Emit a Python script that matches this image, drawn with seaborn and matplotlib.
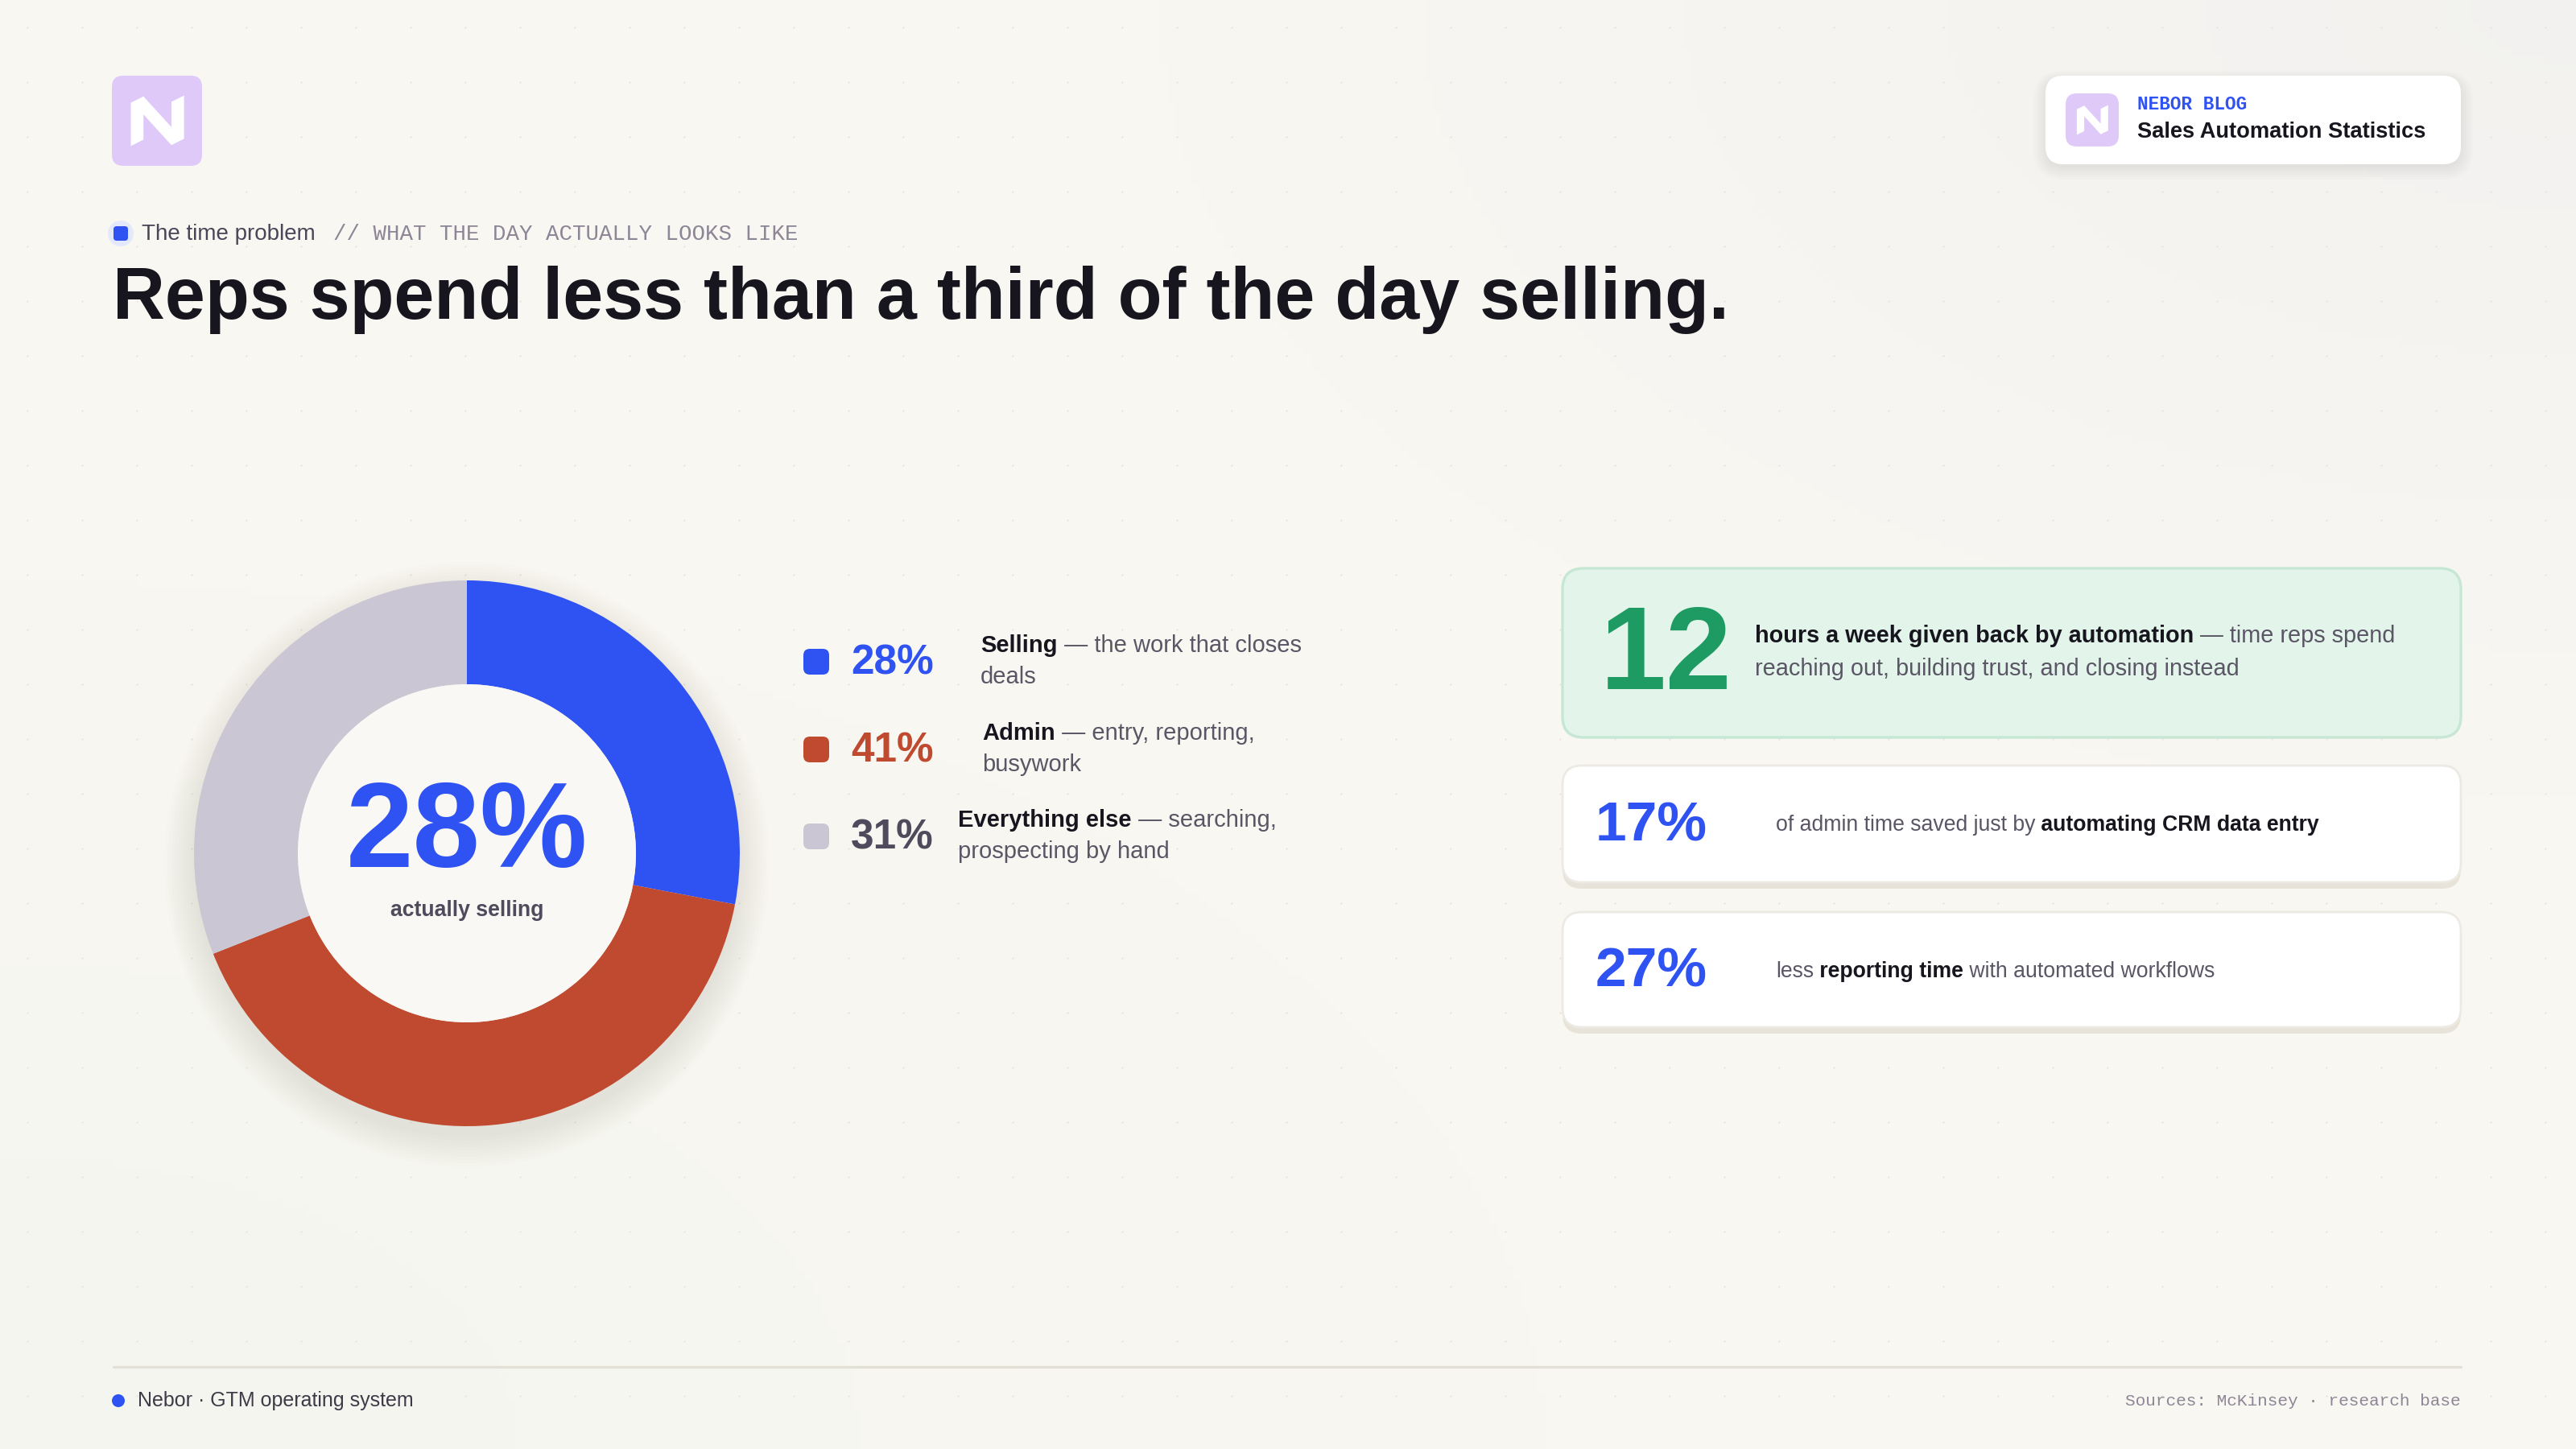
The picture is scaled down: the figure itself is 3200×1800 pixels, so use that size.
import numpy as np
import matplotlib
matplotlib.use("Agg")
import matplotlib.pyplot as plt
from matplotlib import font_manager as fm
from matplotlib.patches import FancyBboxPatch, Polygon, Circle
import seaborn as sns

# ---------------- data ----------------
segments = ["Selling", "Admin", "Everything else"]
shares = [28, 41, 31]
seg_notes_1 = [" \u2014 the work that closes", " \u2014 entry, reporting,", " \u2014 searching,"]
seg_notes_2 = ["deals", "busywork", "prospecting by hand"]
center_label = "actually selling"

stat_numbers = [12, 17, 27]
stat_units = ["", "%", "%"]

title = "Reps spend less than a third of the day selling."
eyebrow = "The time problem"
eyebrow_tag = "// WHAT THE DAY ACTUALLY LOOKS LIKE"
badge_kicker = "NEBOR BLOG"
badge_title = "Sales Automation Statistics"
footer_left = "Nebor \u00b7 GTM operating system"
footer_right = "Sources: McKinsey \u00b7 research base"

# ---------------- style ----------------
BG = "#F9F7F2"
BLUE = "#2F52F2"
RED = "#C04A2F"
LILAC = "#CBC6D3"
DARK = "#17161F"
GREY = "#5B5666"
MUTED = "#8C8696"
GREEN = "#1E9A63"
LAV = "#DEC9F9"
seg_colors = [BLUE, RED, LILAC]
pct_colors = [BLUE, RED, "#4F4A5C"]

sns.set_theme(style="white")
sns.set_palette(seg_colors)
avail = {f.name for f in fm.fontManager.ttflist}
HEAD = "Liberation Sans Narrow" if "Liberation Sans Narrow" in avail else "Liberation Sans"
BODY = "Liberation Sans"
MONO = "Liberation Mono" if "Liberation Mono" in avail else "DejaVu Sans Mono"
plt.rcParams["font.family"] = [BODY, "DejaVu Sans"]

fig = plt.figure(figsize=(16, 9), dpi=200)
fig.patch.set_facecolor(BG)
ax = fig.add_axes([0, 0, 1, 1])
ax.set_xlim(0, 3200)
ax.set_ylim(1800, 0)
ax.axis("off")

# background wash: grey top-right, faint green bottom-left
gy, gx = np.mgrid[0:1:180j, 0:1:320j]
base = np.array([249, 247, 242]) / 255
tr = np.clip(1 - np.hypot(1 - gx, gy) / 0.55, 0, 1)[..., None]
bl = np.clip(1 - np.hypot(gx, 1 - gy) / 0.6, 0, 1)[..., None]
img = base * (1 - tr * 0.6 - bl * 0.5) + np.array([238, 238, 238]) / 255 * tr * 0.6 \
    + np.array([240, 244, 236]) / 255 * bl * 0.5
ax.imshow(img, extent=(0, 3200, 1800, 0), aspect="auto", zorder=0)

# dot grid
dx, dy = np.meshgrid(np.arange(34, 3200, 68), np.arange(34, 1800, 68))
ax.scatter(dx.ravel(), dy.ravel(), s=0.6, color="#E6E2D9", zorder=1, linewidths=0)


def rbox(x0, y0, x1, y1, r, fc, ec="none", lw=0, z=2, alpha=1.0):
    p = FancyBboxPatch((x0, y0), x1 - x0, y1 - y0,
                       boxstyle=f"round,pad=0,rounding_size={r}",
                       fc=fc, ec=ec, lw=lw, zorder=z, alpha=alpha)
    ax.add_patch(p)
    return p


def logo(x0, y0, size, r, z=3):
    rbox(x0, y0, x0 + size, y0 + size, r, LAV, z=z)
    pts = [(0.21, 0.30), (0.35, 0.23), (0.66, 0.57), (0.66, 0.29), (0.80, 0.22),
           (0.80, 0.70), (0.66, 0.77), (0.35, 0.43), (0.35, 0.71), (0.21, 0.78)]
    ax.add_patch(Polygon([(x0 + u * size, y0 + v * size) for u, v in pts],
                         closed=True, fc="white", ec="none", zorder=z + 1))


def rich(x, y, parts, size, family=BODY):
    t = ax.text(x, y, parts[0][0], fontsize=size, fontweight=parts[0][1],
                color=parts[0][2], family=family, va="center", ha="left", zorder=6)
    for s, w, c in parts[1:]:
        t = ax.annotate(s, xy=(1, 0.5), xycoords=t, va="center", ha="left",
                        fontsize=size, fontweight=w, color=c, family=family, zorder=6)
    return t


# ---------------- header ----------------
logo(139, 94, 112, 14)

# badge top right
for k in range(6):
    rbox(2541 - k * 3, 94 - k * 2 + 4, 3057 + k * 3, 204 + k * 3 + 4, 22 + k * 3,
         "#000000", z=2, alpha=0.012)
rbox(2541, 94, 3057, 204, 22, "white", z=3)
logo(2566, 116, 66, 14, z=4)
ax.text(2655, 129, badge_kicker, fontsize=8.2, fontweight="bold", color=BLUE,
        family=MONO, va="center", ha="left", zorder=6)
ax.text(2655, 164, badge_title, fontsize=9.8, fontweight="bold", color=DARK,
        va="center", ha="left", zorder=6)

# eyebrow
ax.add_patch(Circle((150, 290), 16, fc="#E4E8FB", ec="none", zorder=3))
rbox(141, 281, 159, 299, 4, BLUE, z=4)
ax.text(176, 291, eyebrow, fontsize=10, color="#4A4558", va="center", ha="left", zorder=6)
ax.text(414, 291, eyebrow_tag, fontsize=9.9, color=MUTED, family=MONO,
        va="center", ha="left", zorder=6)

# title, fitted to the reference width
tt = ax.text(140, 396, title, fontsize=40, fontweight="bold", color=DARK,
             family=HEAD, va="baseline", ha="left", zorder=6)
fig.canvas.draw()
w = tt.get_window_extent(fig.canvas.get_renderer()).width
tt.set_fontsize(40 * min(1.0, 2008 / w))

# ---------------- donut ----------------
cx, cy, R = 580, 1060, 339
pad = 1.15
dax = fig.add_axes([(cx - R * pad) / 3200, 1 - (cy + R * pad) / 1800,
                    2 * R * pad / 3200, 2 * R * pad / 1800])
dax.axis("off")
for k in range(10):
    dax.add_patch(Circle((0, -0.04), 1.0 + k * 0.012, fc="#6B5E40", ec="none",
                         alpha=0.012, zorder=0))
dax.pie(shares, colors=seg_colors, startangle=90, counterclock=False, radius=1,
        wedgeprops=dict(width=(339 - 210) / 339, edgecolor="none", linewidth=0))
dax.add_patch(Circle((0, 0), 210 / 339, fc="#FAF8F4", ec="none", zorder=3))
dax.set_xlim(-pad, pad)
dax.set_ylim(-pad, pad)
dax.set_aspect("equal")
dax.text(0, 0.065, f"{shares[0]}%", fontsize=54, fontweight="bold", color=BLUE,
         ha="center", va="center", zorder=5)
dax.text(0, -0.21, center_label, fontsize=9.6, fontweight="bold", color="#4F4A5C",
         ha="center", va="center", zorder=5)

# ---------------- legend ----------------
leg_y = [822, 931, 1039]
desc_x = [1218, 1220, 1190]
for i, seg in enumerate(segments):
    y = leg_y[i]
    rbox(998, y - 16, 1030, y + 16, 8, seg_colors[i], z=4)
    ax.text(1057, y + 2, f"{shares[i]}%", fontsize=18.5, fontweight="bold",
            color=pct_colors[i], va="center", ha="left", zorder=6)
    rich(desc_x[i], y - 20, [(seg, "bold", DARK), (seg_notes_1[i], "normal", GREY)], 10.5)
    ax.text(desc_x[i], y + 19, seg_notes_2[i], fontsize=10.5, color=GREY,
            va="center", ha="left", zorder=6)

# ---------------- stat cards ----------------
# card 1 (green)
rbox(1941, 706, 3057, 916, 26, "#E3F4EA", ec="#C6E7D3", lw=1.2, z=3)
ax.text(1988, 818, f"{stat_numbers[0]}{stat_units[0]}", fontsize=53, fontweight="bold",
        color=GREEN, va="center", ha="left", zorder=6)
rich(2180, 790, [("hours a week given back by automation", "bold", DARK),
                 (" \u2014 time reps spend", "normal", GREY)], 10.4)
ax.text(2180, 831, "reaching out, building trust, and closing instead", fontsize=10.4,
        color=GREY, va="center", ha="left", zorder=6)

# cards 2 and 3 (white)
card_rows = [(951, 1096), (1133, 1276)]
card_texts = [
    [("of admin time saved just by", "normal", GREY),
     (" automating CRM data entry", "bold", DARK)],
    [("less", "normal", GREY), (" reporting time", "bold", DARK),
     (" with automated workflows", "normal", GREY)],
]
for j, (y0, y1) in enumerate(card_rows):
    rbox(1941, y0 + 8, 3057, y1 + 8, 24, "#E7E3D8", z=3)
    rbox(1941, y0, 3057, y1, 24, "white", ec="#EDEAE3", lw=1, z=4)
    ym = (y0 + y1) / 2
    ax.text(1982, ym + 3, f"{stat_numbers[j + 1]}{stat_units[j + 1]}", fontsize=25,
            fontweight="bold", color=BLUE, va="center", ha="left", zorder=6)
    rich(2206, ym + 2, card_texts[j], 9.6)

# ---------------- footer ----------------
ax.plot([141, 3057], [1698, 1698], color="#E3E0D8", lw=1.2, zorder=2)
ax.add_patch(Circle((147, 1740), 8, fc=BLUE, ec="none", zorder=4))
ax.text(171, 1740, footer_left, fontsize=9, color="#3E3A48", va="center",
        ha="left", zorder=6)
ax.text(3057, 1740, footer_right, fontsize=7.6, color=MUTED, family=MONO,
        va="center", ha="right", zorder=6)

fig.savefig("out.png", dpi=200, facecolor=BG)
